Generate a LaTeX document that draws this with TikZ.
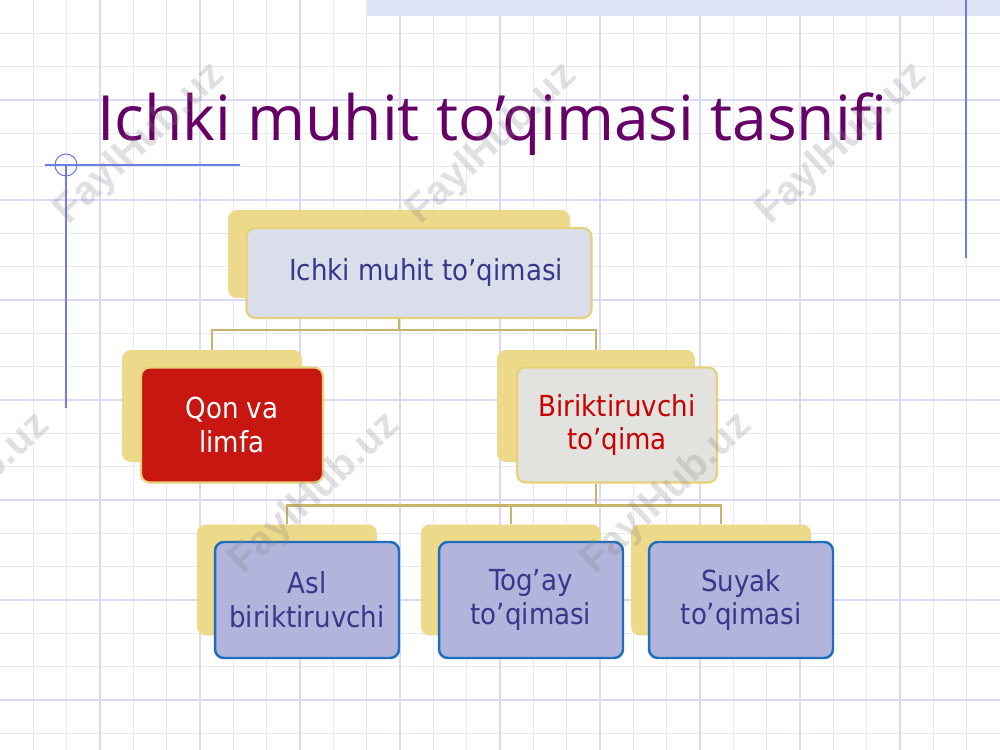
\documentclass[tikz,border=0pt]{standalone}
\usepackage{fontspec}
\usepackage{tikz}
\usetikzlibrary{positioning}
\newfontfamily\titlefont{Open Sans}
\newfontfamily\tilefont{DejaVu Sans Condensed}
\newfontfamily\markfont{Liberation Sans}
\definecolor{gridminor}{HTML}{E8E8F9}
\definecolor{gridmajor}{HTML}{DADAF6}
\definecolor{ruleblue}{HTML}{6E7DE1}
\definecolor{bandblue}{HTML}{DFE5F6}
\definecolor{titlepurple}{HTML}{660066}
\definecolor{tileyellow}{HTML}{EDD98A}
\definecolor{tileedge}{HTML}{E6D07A}
\definecolor{rootfill}{HTML}{DADDEA}
\definecolor{qonfill}{HTML}{C81610}
\definecolor{birfill}{HTML}{E2E2DE}
\definecolor{leaffill}{HTML}{B2B4DC}
\definecolor{leafedge}{HTML}{1E6EBE}
\definecolor{navytext}{HTML}{37378C}
\definecolor{redtext}{HTML}{C80000}
\definecolor{linkolive}{HTML}{C6B46A}
\tikzset{%
  tile/.style={
    rectangle,
    rounded corners=5pt,
    inner sep=0pt,
    align=center
  },
  tile back/.style={
    tile,
    fill=tileyellow
  },
  tile front/.style={
    tile,
    draw=tileedge,
    line width=1.2pt,
    font=\tilefont\fontsize{16.5}{19.3}\selectfont
  },
  size root/.style={minimum width=6.84cm, minimum height=1.76cm},
  size qon/.style={minimum width=3.6cm, minimum height=2.24cm},
  size bir/.style={minimum width=3.96cm, minimum height=2.24cm},
  size leaf/.style={minimum width=3.6cm, minimum height=2.22cm},
  leaf/.style={
    fill=leaffill,
    draw=leafedge,
    line width=1.4pt,
    text=navytext
  },
  link/.style={
    draw=linkolive,
    line width=1.6pt
  },
  watermark/.style={
    rotate=43,
    text=gray,
    opacity=0.24,
    font=\markfont\bfseries\fontsize{23}{23}\selectfont
  },
}

\begin{document}
\begin{tikzpicture}[x=0.02cm, y=-0.02cm]

\useasboundingbox (0,0) rectangle (1000,750);
\fill [white] (0,0) rectangle (1000,750);

% graph paper
\foreach \i in {1,...,29}
  \draw [gridminor, line width=0.5pt] (\i*33.333,0) -- (\i*33.333,750);
\foreach \j in {1,...,22}
  \draw [gridminor, line width=0.5pt] (0,\j*33.333) -- (1000,\j*33.333);
\foreach \i in {1,...,9}
  \draw [gridmajor, line width=1pt] (\i*100,0) -- (\i*100,750);
\foreach \j in {1,...,7}
  \draw [gridmajor, line width=1pt] (0,\j*100) -- (1000,\j*100);

\fill [bandblue] (367,0) rectangle (1000,16);
\draw [ruleblue, line width=0.6pt] (966,0) -- (966,258);
\draw [ruleblue, line width=0.6pt] (45,165) -- (240,165);
\draw [ruleblue, line width=0.6pt] (66,165) circle [radius=0.22cm];
\draw [ruleblue, line width=0.6pt] (66,165) -- (66,408);

\node [anchor=base west, inner sep=0pt, text=titlepurple,
  font=\titlefont\fontsize{35.5}{35.5}\selectfont] (title) at (97,140)
  {Ichki muhit to’qimasi tasnifi};

% top level
\node [tile back, size root] (root-back) at (399,254) {};
\node [tile front, size root, minimum width=6.9cm, minimum height=1.8cm,
  fill=rootfill, text=navytext] (root) at ([shift={(20,19)}]root-back) {\hspace{8pt}Ichki muhit to’qimasi};

% middle level
\node [tile back, size qon] (qon-back) at (212,406) {};
\node [tile back, size bir] (bir-back) at (596,406) {};

\draw [link] (root-back.south |- root.south) -- ++(0,11) -| (qon-back.north);
\draw [link] (root-back.south |- root.south) -- ++(0,11) -| (bir-back.north);

\node [tile front, size qon, minimum width=3.64cm, minimum height=2.3cm,
  fill=qonfill, text=white] (qon) at ([shift={(20,19)}]qon-back) {Qon va\\limfa};
\node [tile front, size bir, minimum width=4cm, minimum height=2.3cm,
  fill=birfill, text=redtext] (bir) at ([shift={(21,19)}]bir-back) {Biriktiruvchi\\to’qima};

% bottom level
\foreach \n/\x/\t in {asl/287/{Asl\\biriktiruvchi}, tog/511/{Tog’ay\\to’qimasi}, suy/721/{Suyak\\to’qimasi}} {
  \node [tile back, size leaf] (\n-back) at (\x,580) {};
  \draw [link] (bir-back.south |- bir.south) -- ++(0,22) -| (\n-back.north);
  \node [tile front, size leaf, minimum width=3.68cm, minimum height=2.32cm,
    leaf] (\n) at ([shift={(20,20)}]\n-back) {\t};
}

\foreach \x/\y [count=\k] in {140/144, 492/144, 842/144, -35/494, 315/494, 667/494}
  \node [watermark] (mark-\k) at (\x,\y) {FaylHub.uz};

\end{tikzpicture}
\end{document}
